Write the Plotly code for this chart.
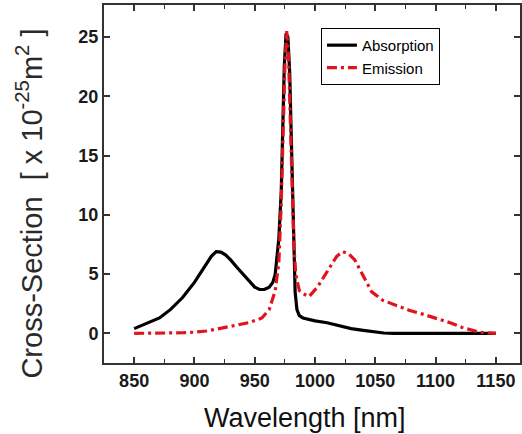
import plotly.graph_objects as go

# Absorption cross-section (x 10^-25 m^2) versus wavelength (nm)
abs_wl = [850, 860, 871, 880, 890, 900, 905, 910, 914, 918, 922, 926, 930, 935, 940, 945,
          950, 954, 958, 962, 965, 967, 970, 972, 973, 974.5, 976, 977.5, 979, 980.5, 981.5,
          982.5, 983.5, 985, 987, 990, 1000, 1010, 1020, 1030, 1040, 1050, 1057, 1065,
          1100, 1150]
abs_cs = [0.4, 0.8, 1.3, 2.0, 3.0, 4.3, 5.1, 5.9, 6.5, 6.9, 6.85, 6.6, 6.2, 5.6, 5.0, 4.4,
          3.9, 3.7, 3.7, 3.9, 4.3, 5.0, 8.0, 12.0, 17.0, 22.5, 25.3, 25.0, 22.0, 16.0, 10.0,
          6.0, 3.5, 2.0, 1.5, 1.3, 1.05, 0.9, 0.65, 0.4, 0.25, 0.1, 0.03, 0.0,
          0.0, 0.0]

# Emission cross-section (x 10^-25 m^2) versus wavelength (nm)
emi_wl = [850, 870, 890, 900, 910, 918, 932, 945, 956, 962, 967, 970, 972, 973.5, 975,
          976.5, 978, 979.5, 981, 982.5, 984, 987, 991, 995, 1002, 1012, 1018, 1023, 1028,
          1033, 1038, 1047, 1056, 1066, 1078, 1090, 1100, 1112, 1122, 1136, 1150]
emi_cs = [0.0, 0.0, 0.05, 0.1, 0.2, 0.35, 0.6, 0.9, 1.3, 2.0, 3.6, 6.0, 11.0, 17.0, 22.5,
          25.5, 23.5, 18.0, 12.0, 7.5, 5.0, 3.6, 3.3, 3.1, 3.9, 5.6, 6.5, 6.9, 6.7,
          6.2, 5.2, 3.5, 2.8, 2.4, 1.95, 1.6, 1.3, 0.9, 0.5, 0.1, 0.0]

x_ticks = [850, 900, 950, 1000, 1050, 1100, 1150]
y_ticks = [0, 5, 10, 15, 20, 25]

sans = "Liberation Sans, Arial, sans-serif"

fig = go.Figure()
fig.add_trace(go.Scatter(
    x=abs_wl, y=abs_cs, mode="lines", name="Absorption",
    line=dict(color="#000000", width=3.2),
))
fig.add_trace(go.Scatter(
    x=emi_wl, y=emi_cs, mode="lines", name="Emission",
    line=dict(color="#e0141c", width=3.2, dash="10px,4px,3px,4px"),
))

axis_common = dict(
    showgrid=False, zeroline=False, showline=True, linecolor="#333333", linewidth=2,
    mirror="allticks", ticks="inside", ticklen=6, tickwidth=1.5, tickcolor="#333333",
    tickfont=dict(family=sans, size=18, color="#1a1a1a"),
)

fig.update_xaxes(
    range=[825, 1170], tickvals=x_ticks, ticktext=[f"<b>{v}</b>" for v in x_ticks],
    minor=dict(ticks="inside", ticklen=4, tickwidth=1.2, tickcolor="#333333", dtick=25,
               tick0=825, showgrid=False),
    **axis_common,
)
fig.update_yaxes(
    range=[-2.5, 27.7], tickvals=y_ticks, ticktext=[f"<b>{v}</b>" for v in y_ticks],
    **axis_common,
)

# Axis titles
fig.add_annotation(
    text="Cross-Section  [ x 10<sup>-25</sup>m<sup>2</sup> ]",
    textangle=-90, xref="paper", yref="paper", x=-0.179, y=0.444,
    xanchor="center", yanchor="middle", showarrow=False,
    font=dict(family=sans, size=29, color="#2a2a2a"),
)
fig.add_annotation(
    text="Wavelength [nm]",
    xref="paper", yref="paper", x=0.483, y=-0.154,
    xanchor="center", yanchor="middle", showarrow=False,
    font=dict(family=sans, size=27, color="#111111"),
)

fig.update_layout(
    width=522, height=434,
    margin=dict(l=104, r=0, t=5, b=71),
    paper_bgcolor="white", plot_bgcolor="white",
    showlegend=True,
    legend=dict(
        x=0.5215, y=0.936, xanchor="left", yanchor="top",
        bgcolor="white", bordercolor="#000000", borderwidth=1,
        font=dict(family=sans, size=15, color="#000000"),
        tracegroupgap=0, itemwidth=30,
    ),
)

fig.write_html("out.html")
